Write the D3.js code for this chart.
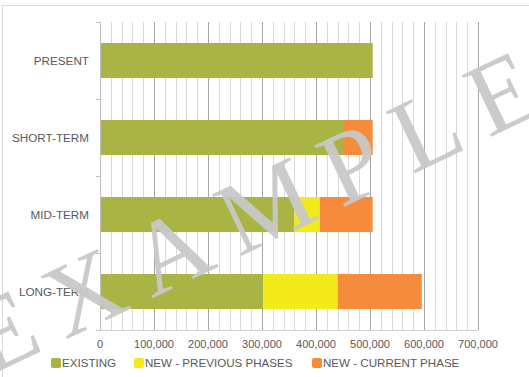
<!DOCTYPE html>
<html>
<head>
<meta charset="utf-8">
<script src="https://cdn.jsdelivr.net/npm/d3@7"></script>
<style>
  html, body { margin: 0; padding: 0; background: #fff; }
  svg { display: block; }
  text { font-family: "Liberation Sans", Arial, sans-serif; }
  text.wm { font-family: "Liberation Serif", "Times New Roman", serif; }
</style>
</head>
<body>
<script>
const categories = ["PRESENT", "SHORT-TERM", "MID-TERM", "LONG-TERM"];
const seriesNames = ["EXISTING", "NEW - PREVIOUS PHASES", "NEW - CURRENT PHASE"];
const existing = [505000, 450000, 360000, 302000];
const newPrevious = [0, 0, 47000, 138000];
const newCurrent = [0, 55000, 98000, 156000];
const xTicks = [0, 100000, 200000, 300000, 400000, 500000, 600000, 700000];
const colors = ["#A9B444", "#F3EA1C", "#F58C3C"];
const watermark = "EXAMPLE";

const W = 529, H = 377;
const svg = d3.select("body").append("svg").attr("width", W).attr("height", H);

// outer chart border
svg.append("rect").attr("x", 2.5).attr("y", 5.5).attr("width", W + 10).attr("height", H + 10)
  .attr("fill", "none").attr("stroke", "#d9d9d9").attr("stroke-width", 1);

const plot = { left: 100, right: 478, top: 22, bottom: 330 };
const x = d3.scaleLinear().domain([0, 700000]).range([plot.left, plot.right]);
const y = d3.scaleBand().domain(categories).range([plot.top, plot.bottom]).paddingInner(0.545).paddingOuter(0.2725);
const yEdges = d3.scaleLinear().domain([0, categories.length]).range([plot.top, plot.bottom]);

// minor gridlines
const minor = d3.range(0, 700001, 20000).filter(v => v % 100000 !== 0);
svg.append("g").selectAll("line").data(minor).join("line")
  .attr("x1", d => Math.round(x(d)) + 0.5).attr("x2", d => Math.round(x(d)) + 0.5)
  .attr("y1", plot.top).attr("y2", plot.bottom)
  .attr("stroke", "#d9d9d9").attr("stroke-width", 1);
// major gridlines
svg.append("g").selectAll("line").data(xTicks.slice(1)).join("line")
  .attr("x1", d => Math.round(x(d)) + 0.5).attr("x2", d => Math.round(x(d)) + 0.5)
  .attr("y1", plot.top).attr("y2", plot.bottom)
  .attr("stroke", "#a6a6a6").attr("stroke-width", 1);

// bottom axis line
svg.append("line").attr("x1", plot.left).attr("x2", plot.right)
  .attr("y1", plot.bottom + 0.5).attr("y2", plot.bottom + 0.5)
  .attr("stroke", "#d0d0d0");

// stacked data
const rows = categories.map((c, i) => ({ cat: c, EXISTING: existing[i], "NEW - PREVIOUS PHASES": newPrevious[i], "NEW - CURRENT PHASE": newCurrent[i] }));
const stack = d3.stack().keys(seriesNames)(rows);
const layers = svg.append("g").selectAll("g").data(stack).join("g").attr("fill", (d, i) => colors[i]);
layers.selectAll("rect").data(d => d.filter(p => p[1] > p[0])).join("rect")
  .attr("x", d => x(d[0]))
  .attr("width", d => x(d[1]) - x(d[0]))
  .attr("y", d => y(d.data.cat))
  .attr("height", y.bandwidth());

// left axis
svg.append("line").attr("x1", plot.left + 0.5).attr("x2", plot.left + 0.5)
  .attr("y1", plot.top).attr("y2", plot.bottom).attr("stroke", "#bfbfbf");
svg.append("g").selectAll("line").data(d3.range(categories.length + 1)).join("line")
  .attr("x1", plot.left - 4).attr("x2", plot.left)
  .attr("y1", d => Math.round(yEdges(d)) + 0.5).attr("y2", d => Math.round(yEdges(d)) + 0.5)
  .attr("stroke", "#bfbfbf");
svg.append("g").selectAll("text").data(categories).join("text")
  .attr("x", 89).attr("y", d => y(d) + y.bandwidth() / 2)
  .attr("dy", "0.35em").attr("text-anchor", "end")
  .attr("font-size", 11.7).attr("fill", "#595959").text(d => d);

// x tick labels
const fmt = d3.format(",");
svg.append("g").selectAll("text").data(xTicks).join("text")
  .attr("x", d => x(d)).attr("y", 344).attr("dy", "0.35em")
  .attr("text-anchor", "middle").attr("font-size", 11).attr("fill", "#595959")
  .text(d => fmt(d));

// legend
const legendX = [51, 134, 312];
const lg = svg.append("g").selectAll("g").data(seriesNames).join("g")
  .attr("transform", (d, i) => `translate(${legendX[i]},363)`);
lg.append("rect").attr("x", 0).attr("y", -5).attr("width", 10).attr("height", 10).attr("rx", 2)
  .attr("fill", (d, i) => colors[i]);
lg.append("text").attr("x", 11).attr("y", 0).attr("dy", "0.35em")
  .attr("font-size", 11.6).attr("fill", "#595959").text(d => d);

// watermark
svg.append("text").attr("class", "wm")
  .attr("transform", "translate(262,208) rotate(-25.5)")
  .attr("text-anchor", "middle").attr("dy", "0.33em")
  .attr("font-size", 104).attr("letter-spacing", 21)
  .attr("fill", "#c8c8c8").attr("fill-opacity", 0.95)
  .text(watermark);
</script>
</body>
</html>
